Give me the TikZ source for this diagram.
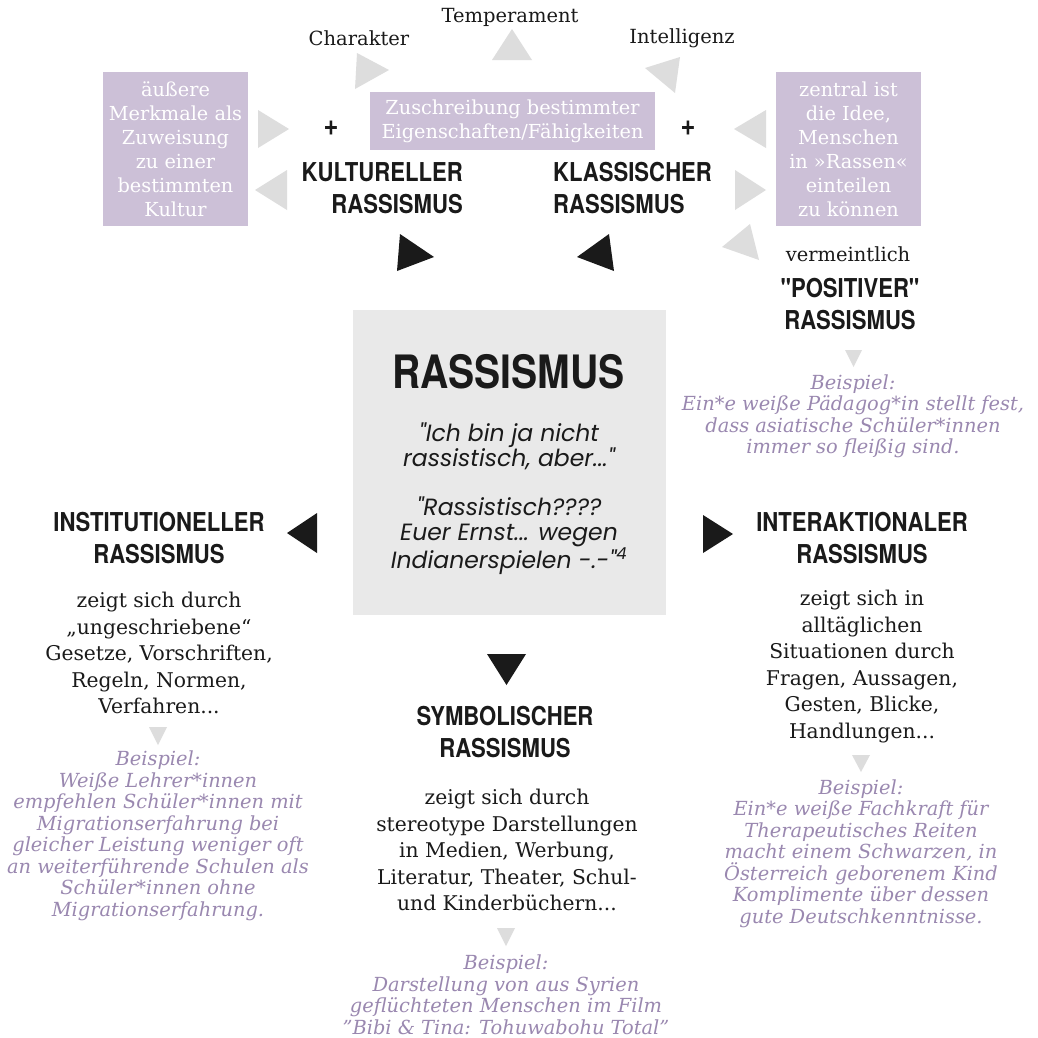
\documentclass[tikz,border=0pt]{standalone}
\usepackage{fontspec}
\setmainfont{DejaVu Serif}
\newfontfamily\headfont[FakeStretch=0.85]{TeX Gyre Heros}
\newfontfamily\quotefont{Poppins}
\definecolor{ink}{HTML}{1A1A1A}
\definecolor{lilacbox}{HTML}{CCC0D7}
\definecolor{lilac}{HTML}{9A88B0}
\definecolor{graybox}{HTML}{E9E9E9}
\definecolor{graytri}{HTML}{DDDDDD}
\tikzset{
  head/.style={font=\headfont\bfseries\fontsize{26}{32}\selectfont, align=center, text=ink, inner sep=0pt},
  body/.style={font=\fontsize{20.3}{26.5}\selectfont, align=center, text=ink, inner sep=0pt},
  bsp/.style={font=\itshape\fontsize{19.4}{21.5}\selectfont, align=center, text=lilac, inner sep=0pt},
  lbl/.style={font=\fontsize{19.5}{22}\selectfont, text=ink, inner sep=0pt},
  pbox/.style={fill=lilacbox, text=white, align=center, inner sep=0pt, font=\fontsize{19.3}{24}\selectfont},
  quote/.style={font=\quotefont\itshape\fontsize{23.5}{25}\selectfont, align=center, text=ink, inner sep=0pt},
  gtri/.style={fill=graytri},
  btri/.style={fill=ink},
}
\begin{document}
\begin{tikzpicture}[x=1pt,y=-1pt]
\useasboundingbox (0,0) rectangle (1038,1037);
\fill[white] (0,0) rectangle (1038,1037);

% top labels
\node[lbl] (temp) at (510,17) {Temperament};
\node[lbl] (char) at (359,38) {Charakter};
\node[lbl] (intel) at (682,38) {Intelligenz};

% grey small triangles at top
\fill[gtri] (512,29) -- (532,60) -- (492,60) -- cycle;
\fill[gtri] (357,53) -- (389,70) -- (355,89) -- cycle;
\fill[gtri] (680,57) -- (645,68) -- (675,93) -- cycle;

% purple boxes
\node[pbox, minimum width=285pt, minimum height=58pt] (zu) at (512.5,121) {Zuschreibung bestimmter\\Eigenschaften/Fähigkeiten};
\node[pbox, minimum width=145pt, minimum height=154pt] (aeu) at (175.5,149) {äußere\\Merkmale als\\Zuweisung\\zu einer\\bestimmten\\Kultur};
\node[pbox, minimum width=145pt, minimum height=154pt] (zen) at (848.5,149) {zentral ist\\die Idee,\\Menschen\\in »Rassen«\\einteilen\\zu können};

% side grey triangles
\fill[gtri] (258,110) -- (289,129) -- (258,148) -- cycle;
\fill[gtri] (287,170) -- (255,190) -- (287,210) -- cycle;
\fill[gtri] (766,110) -- (734,129) -- (766,148) -- cycle;
\fill[gtri] (735,170) -- (766,190) -- (735,210) -- cycle;
\fill[gtri] (750,224) -- (722,247) -- (759,260) -- cycle;

% plus signs
\node[head, font=\headfont\bfseries\fontsize{30}{30}\selectfont] (p1) at (331,128) {+};
\node[head, font=\headfont\bfseries\fontsize{30}{30}\selectfont] (p2) at (688,128) {+};

% top headings
\node[head, align=right, anchor=east] (kult) at (463,188) {KULTURELLER\\RASSISMUS};
\node[head, align=left, anchor=west] (klas) at (553,188) {KLASSISCHER\\RASSISMUS};

% black triangles top
\fill[btri] (400,234) -- (434,257) -- (397,271) -- cycle;
\fill[btri] (609,234) -- (577,257) -- (614,271) -- cycle;

% centre box
\node[fill=graybox, minimum width=313pt, minimum height=305pt, inner sep=0pt] (cbox) at (509.5,462.5) {};
\node[head, font=\headfont\bfseries\fontsize{46}{46}\selectfont] (rass) at (508.5,372) {RASSISMUS};
\node[quote] (q1) at (509,446) {"Ich bin ja nicht\\rassistisch, aber..."};
\node[quote] (q2) at (509,535.5) {"Rassistisch????\\Euer Ernst... wegen\\Indianerspielen -.-"\textsuperscript{4}};

% positiver
\node[lbl] (verm) at (848,254) {vermeintlich};
\node[head] (posi) at (850,304.5) {"POSITIVER"\\RASSISMUS};
\fill[gtri] (845,350) -- (862,350) -- (853.5,367) -- cycle;
\node[bsp] (bpos) at (853,416.5) {Beispiel:\\Ein*e weiße Pädagog*in stellt fest,\\dass asiatische Schüler*innen\\immer so fleißig sind.};

% institutioneller
\fill[btri] (317,513) -- (287,533) -- (317,553) -- cycle;
\node[head] (inst) at (159,538) {INSTITUTIONELLER\\RASSISMUS};
\node[body] (binst) at (159,653) {zeigt sich durch\\„ungeschriebene“\\Gesetze, Vorschriften,\\Regeln, Normen,\\Verfahren...};
\fill[gtri] (149,727) -- (167,727) -- (158,745) -- cycle;
\node[bsp] (einst) at (158,836) {Beispiel:\\Weiße Lehrer*innen\\empfehlen Schüler*innen mit\\Migrationserfahrung bei\\gleicher Leistung weniger oft\\an weiterführende Schulen als\\Schüler*innen ohne\\Migrationserfahrung.};

% symbolischer
\fill[btri] (487,654) -- (526,654) -- (506.5,685) -- cycle;
\node[head] (symb) at (505,732.5) {SYMBOLISCHER\\RASSISMUS};
\node[body] (bsymb) at (507,850) {zeigt sich durch\\stereotype Darstellungen\\in Medien, Werbung,\\Literatur, Theater, Schul-\\und Kinderbüchern...};
\fill[gtri] (497,928) -- (515,928) -- (506,946) -- cycle;
\node[bsp] (esymb) at (506,994.5) {Beispiel:\\Darstellung von aus Syrien\\geflüchteten Menschen im Film\\"Bibi \& Tina: Tohuwabohu Total"};

% interaktionaler
\fill[btri] (703,515) -- (733,534) -- (703,553) -- cycle;
\node[head] (inter) at (862,538) {INTERAKTIONALER\\RASSISMUS};
\node[body] (binter) at (862,666.5) {zeigt sich in\\alltäglichen\\Situationen durch\\Fragen, Aussagen,\\Gesten, Blicke,\\Handlungen...};
\fill[gtri] (852,755) -- (870,755) -- (861,772) -- cycle;
\node[bsp] (einter) at (861,853.5) {Beispiel:\\Ein*e weiße Fachkraft für\\Therapeutisches Reiten\\macht einem Schwarzen, in\\Österreich geborenem Kind\\Komplimente über dessen\\gute Deutschkenntnisse.};
\end{tikzpicture}
\end{document}
